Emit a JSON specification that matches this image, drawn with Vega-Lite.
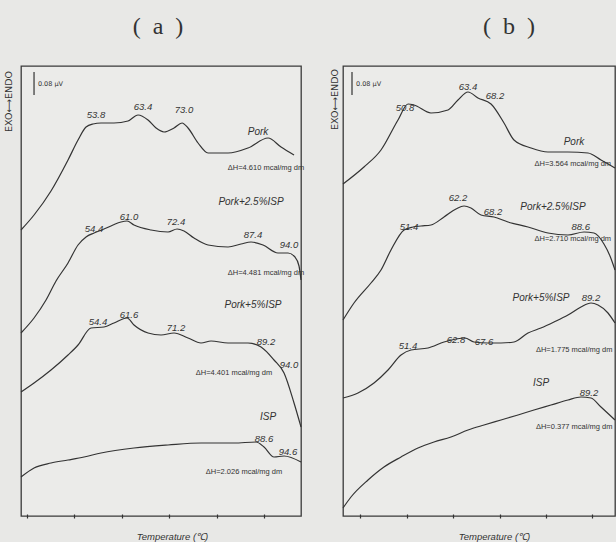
{
  "$schema": "https://vega.github.io/schema/vega-lite/v6.json",
  "background": "#e8e8e6",
  "padding": {"left": 2, "top": 14, "right": 0, "bottom": 0},
  "spacing": 42,
  "bounds": "flush",
  "config": {
    "view": {"stroke": "#3a3a3a", "strokeWidth": 1.3, "fill": "#ebebe9"},
    "text": {"color": "#333333"}
  },
  "datasets": {
    "curvesA": [
      {"series":"Pork","T":38.73,"S":286},{"series":"Pork","T":41.48,"S":301},{"series":"Pork","T":45.06,"S":325},{"series":"Pork","T":48.65,"S":356},{"series":"Pork","T":50.76,"S":376},{"series":"Pork","T":52.45,"S":389},{"series":"Pork","T":53.92,"S":392},{"series":"Pork","T":55.61,"S":393},{"series":"Pork","T":58.35,"S":393},{"series":"Pork","T":61.31,"S":395},{"series":"Pork","T":63.42,"S":401},{"series":"Pork","T":65.53,"S":396},{"series":"Pork","T":67.22,"S":388},{"series":"Pork","T":68.9,"S":384},{"series":"Pork","T":71.01,"S":388},{"series":"Pork","T":72.7,"S":393},{"series":"Pork","T":73.97,"S":388},{"series":"Pork","T":76.08,"S":373},{"series":"Pork","T":78.19,"S":363},{"series":"Pork","T":82.41,"S":363},{"series":"Pork","T":86.62,"S":368},{"series":"Pork","T":90.84,"S":378},{"series":"Pork","T":93.59,"S":369},{"series":"Pork","T":96.33,"S":361},
      {"series":"P25","T":38.73,"S":183},{"series":"P25","T":41.48,"S":198},{"series":"P25","T":44.01,"S":216},{"series":"P25","T":46.12,"S":235},{"series":"P25","T":48.65,"S":253},{"series":"P25","T":50.76,"S":271},{"series":"P25","T":52.45,"S":279},{"series":"P25","T":54.14,"S":283},{"series":"P25","T":56.24,"S":287},{"series":"P25","T":58.14,"S":291},{"series":"P25","T":59.83,"S":294},{"series":"P25","T":61.1,"S":295},{"series":"P25","T":62.57,"S":291},{"series":"P25","T":66.16,"S":286},{"series":"P25","T":69.75,"S":284},{"series":"P25","T":71.65,"S":287},{"series":"P25","T":73.12,"S":285},{"series":"P25","T":75.23,"S":278},{"series":"P25","T":78.19,"S":271},{"series":"P25","T":82.41,"S":269},{"series":"P25","T":85.15,"S":272},{"series":"P25","T":87.26,"S":274},{"series":"P25","T":89.79,"S":271},{"series":"P25","T":92.95,"S":263},{"series":"P25","T":95.06,"S":263},{"series":"P25","T":96.54,"S":259},{"series":"P25","T":97.38,"S":250},{"series":"P25","T":97.8,"S":236},
      {"series":"P5","T":38.73,"S":124},{"series":"P5","T":41.48,"S":133},{"series":"P5","T":45.06,"S":146},{"series":"P5","T":48.65,"S":161},{"series":"P5","T":50.76,"S":171},{"series":"P5","T":53.5,"S":188},{"series":"P5","T":56.24,"S":189},{"series":"P5","T":58.35,"S":193},{"series":"P5","T":61.1,"S":198},{"series":"P5","T":62.57,"S":191},{"series":"P5","T":65.53,"S":183},{"series":"P5","T":68.27,"S":181},{"series":"P5","T":71.01,"S":183},{"series":"P5","T":73.97,"S":178},{"series":"P5","T":76.71,"S":173},{"series":"P5","T":78.82,"S":175},{"series":"P5","T":82.41,"S":173},{"series":"P5","T":86.62,"S":173},{"series":"P5","T":89.37,"S":169},{"series":"P5","T":92.11,"S":156},{"series":"P5","T":94.22,"S":143},{"series":"P5","T":96.33,"S":113},{"series":"P5","T":97.8,"S":89},
      {"series":"ISP","T":38.73,"S":39},{"series":"ISP","T":41.48,"S":48},{"series":"ISP","T":45.06,"S":53},{"series":"ISP","T":48.65,"S":56},{"series":"ISP","T":52.03,"S":59},{"series":"ISP","T":55.61,"S":63},{"series":"ISP","T":62.57,"S":68},{"series":"ISP","T":69.75,"S":71},{"series":"ISP","T":76.71,"S":73},{"series":"ISP","T":83.67,"S":73},{"series":"ISP","T":88.31,"S":74},{"series":"ISP","T":90.0,"S":69},{"series":"ISP","T":92.11,"S":59},{"series":"ISP","T":94.22,"S":60},{"series":"ISP","T":97.8,"S":54}
    ],
    "curvesB": [
      {"series":"Pork","T":36.23,"S":332},{"series":"Pork","T":40.75,"S":349},{"series":"Pork","T":44.42,"S":366},{"series":"Pork","T":48.08,"S":396},{"series":"Pork","T":50.24,"S":412},{"series":"Pork","T":51.53,"S":411},{"series":"Pork","T":55.19,"S":403},{"series":"Pork","T":58.86,"S":406},{"series":"Pork","T":61.01,"S":416},{"series":"Pork","T":63.17,"S":424},{"series":"Pork","T":65.32,"S":418},{"series":"Pork","T":68.13,"S":412},{"series":"Pork","T":70.93,"S":393},{"series":"Pork","T":73.08,"S":376},{"series":"Pork","T":76.75,"S":368},{"series":"Pork","T":80.41,"S":364},{"series":"Pork","T":84.72,"S":364},{"series":"Pork","T":89.03,"S":363},{"series":"Pork","T":91.83,"S":356},{"series":"Pork","T":94.85,"S":348},
      {"series":"P25","T":36.23,"S":196},{"series":"P25","T":38.6,"S":213},{"series":"P25","T":42.26,"S":233},{"series":"P25","T":44.42,"S":246},{"series":"P25","T":46.57,"S":266},{"series":"P25","T":49.38,"S":286},{"series":"P25","T":51.31,"S":289},{"series":"P25","T":53.04,"S":290},{"series":"P25","T":55.19,"S":291},{"series":"P25","T":58.0,"S":299},{"series":"P25","T":60.58,"S":307},{"series":"P25","T":62.31,"S":310},{"series":"P25","T":63.81,"S":308},{"series":"P25","T":65.97,"S":301},{"series":"P25","T":68.77,"S":299},{"series":"P25","T":71.79,"S":294},{"series":"P25","T":76.1,"S":289},{"series":"P25","T":80.41,"S":283},{"series":"P25","T":84.72,"S":281},{"series":"P25","T":88.17,"S":284},{"series":"P25","T":90.32,"S":283},{"series":"P25","T":92.47,"S":272},{"series":"P25","T":93.77,"S":260},{"series":"P25","T":94.85,"S":246},
      {"series":"P5","T":36.23,"S":118},{"series":"P5","T":39.46,"S":123},{"series":"P5","T":42.91,"S":133},{"series":"P5","T":45.93,"S":146},{"series":"P5","T":48.73,"S":161},{"series":"P5","T":50.88,"S":166},{"series":"P5","T":54.55,"S":168},{"series":"P5","T":58.0,"S":174},{"series":"P5","T":60.58,"S":177},{"series":"P5","T":62.52,"S":178},{"series":"P5","T":64.46,"S":174},{"series":"P5","T":67.48,"S":173},{"series":"P5","T":70.28,"S":173},{"series":"P5","T":73.08,"S":174},{"series":"P5","T":76.1,"S":183},{"series":"P5","T":78.88,"S":188},{"series":"P5","T":81.7,"S":194},{"series":"P5","T":84.72,"S":201},{"series":"P5","T":87.52,"S":209},{"series":"P5","T":89.68,"S":213},{"series":"P5","T":91.19,"S":211},{"series":"P5","T":93.34,"S":203},{"series":"P5","T":94.85,"S":193},
      {"series":"ISP","T":36.23,"S":8},{"series":"ISP","T":37.95,"S":19},{"series":"ISP","T":41.62,"S":36},{"series":"ISP","T":45.06,"S":49},{"series":"ISP","T":48.73,"S":59},{"series":"ISP","T":52.39,"S":68},{"series":"ISP","T":55.84,"S":74},{"series":"ISP","T":59.5,"S":79},{"series":"ISP","T":63.17,"S":86},{"series":"ISP","T":66.62,"S":91},{"series":"ISP","T":70.28,"S":96},{"series":"ISP","T":73.94,"S":101},{"series":"ISP","T":77.39,"S":106},{"series":"ISP","T":81.05,"S":111},{"series":"ISP","T":84.72,"S":116},{"series":"ISP","T":87.52,"S":119},{"series":"ISP","T":89.68,"S":118},{"series":"ISP","T":91.83,"S":109},{"series":"ISP","T":94.85,"S":96}
    ],
    "labelsA": [
      {"kind":"peak","label":"53.8","T":54.56,"S":401},{"kind":"peak","label":"63.4","T":64.47,"S":409},{"kind":"peak","label":"73.0","T":73.12,"S":406},
      {"kind":"peak","label":"54.4","T":54.13,"S":287},{"kind":"peak","label":"61.0","T":61.52,"S":299},{"kind":"peak","label":"72.4","T":71.43,"S":294},{"kind":"peak","label":"87.4","T":87.68,"S":281},{"kind":"peak","label":"94.0","T":95.27,"S":271},
      {"kind":"peak","label":"54.4","T":54.98,"S":194},{"kind":"peak","label":"61.6","T":61.52,"S":201},{"kind":"peak","label":"71.2","T":71.43,"S":188},{"kind":"peak","label":"89.2","T":90.42,"S":174},{"kind":"peak","label":"94.0","T":95.27,"S":151},
      {"kind":"peak","label":"88.6","T":90.0,"S":77},{"kind":"peak","label":"94.6","T":95.06,"S":64},
      {"kind":"name","label":"Pork","T":88.73,"S":384},{"kind":"name","label":"Pork+2.5%ISP","T":87.26,"S":314},{"kind":"name","label":"Pork+5%ISP","T":87.68,"S":211},{"kind":"name","label":"ISP","T":90.84,"S":99},
      {"kind":"dh","label":"ΔH=4.610 mcal/mg dm","T":90.42,"S":348},{"kind":"dh","label":"ΔH=4.481 mcal/mg dm","T":90.42,"S":243},{"kind":"dh","label":"ΔH=4.401 mcal/mg dm","T":83.67,"S":143},{"kind":"dh","label":"ΔH=2.026 mcal/mg dm","T":85.78,"S":44},
      {"kind":"bar","label":"0.08 μV","T":42.3,"S":432}
    ],
    "labelsB": [
      {"kind":"peak","label":"50.8","T":49.6,"S":408},{"kind":"peak","label":"63.4","T":63.17,"S":429},{"kind":"peak","label":"68.2","T":69.0,"S":420},
      {"kind":"peak","label":"62.2","T":61.01,"S":318},{"kind":"peak","label":"68.2","T":68.56,"S":304},{"kind":"peak","label":"51.4","T":50.45,"S":289},{"kind":"peak","label":"88.6","T":87.48,"S":289},
      {"kind":"peak","label":"89.2","T":89.68,"S":218},{"kind":"peak","label":"51.4","T":50.24,"S":170},{"kind":"peak","label":"62.8","T":60.58,"S":176},{"kind":"peak","label":"67.6","T":66.62,"S":174},
      {"kind":"peak","label":"89.2","T":89.25,"S":123},
      {"kind":"name","label":"Pork","T":86.01,"S":374},{"kind":"name","label":"Pork+2.5%ISP","T":81.49,"S":309},{"kind":"name","label":"Pork+5%ISP","T":78.9,"S":218},{"kind":"name","label":"ISP","T":78.9,"S":133},
      {"kind":"dh","label":"ΔH=3.564 mcal/mg dm","T":94.0,"S":352},{"kind":"dh","label":"ΔH=2.710 mcal/mg dm","T":94.0,"S":277},{"kind":"dh","label":"ΔH=1.775 mcal/mg dm","T":94.3,"S":166},{"kind":"dh","label":"ΔH=0.377 mcal/mg dm","T":94.3,"S":89},
      {"kind":"bar","label":"0.08 μV","T":39.03,"S":432}
    ],
    "barA": [{"T":41.48,"S1":421,"S2":444}],
    "barB": [{"T":38.17,"S1":421,"S2":444}]
  },
  "hconcat": [
    {
      "width": 280,
      "height": 450,
      "title": {"text": "(\u00a0\u00a0a\u00a0\u00a0)", "font": "Liberation Serif", "fontSize": 24, "fontWeight": "normal", "color": "#333333", "offset": 3, "dx": -3, "baseline": "bottom"},
      "encoding": {
        "x": {"field": "T", "type": "quantitative", "scale": {"domain": [38.73, 97.8], "nice": false, "zero": false},
          "axis": {"values": [40, 50, 60, 70, 80, 90], "labels": false, "domain": false, "grid": false, "ticks": true, "tickSize": 4, "tickColor": "#333333", "tickWidth": 1.2, "offset": -2,
            "title": "Temperature (℃)", "titleFont": "Liberation Sans", "titleFontStyle": "italic", "titleFontWeight": "normal", "titleFontSize": 9.5, "titleColor": "#333333", "titleX": 151, "titleY": 22, "titleBaseline": "middle", "titleAlign": "center"}},
        "y": {"field": "S", "type": "quantitative", "scale": {"domain": [0, 450], "nice": false, "zero": false},
          "axis": {"title": "EXO⟷ENDO", "labels": false, "ticks": false, "domain": false, "grid": false, "titleFont": "DejaVu Sans", "titleFontSize": 9.5, "titleFontWeight": "normal", "titleColor": "#333333", "titleX": -13, "titleY": 35, "titleAngle": 270, "titleAlign": "center", "titleBaseline": "middle"}}
      },
      "layer": [
        {"data": {"name": "curvesA"}, "mark": {"type": "line", "interpolate": "monotone", "color": "#333333", "strokeWidth": 1.2}, "encoding": {"detail": {"field": "series"}}},
        {"data": {"name": "barA"}, "mark": {"type": "rule", "color": "#333333", "strokeWidth": 1.2}, "encoding": {"y": {"field": "S1", "type": "quantitative"}, "y2": {"field": "S2"}}},
        {"data": {"name": "labelsA"}, "transform": [{"filter": "datum.kind == 'peak'"}], "mark": {"type": "text", "font": "Liberation Sans", "fontStyle": "italic", "fontSize": 9.5, "fill": "#333333"}, "encoding": {"text": {"field": "label"}}},
        {"data": {"name": "labelsA"}, "transform": [{"filter": "datum.kind == 'name'"}], "mark": {"type": "text", "font": "Liberation Sans", "fontStyle": "italic", "fontSize": 10, "fill": "#333333"}, "encoding": {"text": {"field": "label"}}},
        {"data": {"name": "labelsA"}, "transform": [{"filter": "datum.kind == 'dh'"}], "mark": {"type": "text", "font": "Liberation Sans", "fontSize": 7.5, "fill": "#333333"}, "encoding": {"text": {"field": "label"}}},
        {"data": {"name": "labelsA"}, "transform": [{"filter": "datum.kind == 'bar'"}], "mark": {"type": "text", "font": "DejaVu Sans", "fontSize": 6.5, "align": "left", "fill": "#333333"}, "encoding": {"text": {"field": "label"}}}
      ]
    },
    {
      "width": 272,
      "height": 450,
      "title": {"text": "(\u00a0\u00a0b\u00a0\u00a0)", "font": "Liberation Serif", "fontSize": 24, "fontWeight": "normal", "color": "#333333", "offset": 3, "dx": 30, "baseline": "bottom"},
      "encoding": {
        "x": {"field": "T", "type": "quantitative", "scale": {"domain": [36.23, 94.85], "nice": false, "zero": false},
          "axis": {"values": [40, 50, 60, 70, 80, 90], "labels": false, "domain": false, "grid": false, "ticks": true, "tickSize": 4, "tickColor": "#333333", "tickWidth": 1.2, "offset": -2,
            "title": "Temperature (℃)", "titleFont": "Liberation Sans", "titleFontStyle": "italic", "titleFontWeight": "normal", "titleFontSize": 9.5, "titleColor": "#333333", "titleX": 151, "titleY": 22, "titleBaseline": "middle", "titleAlign": "center"}},
        "y": {"field": "S", "type": "quantitative", "scale": {"domain": [0, 450], "nice": false, "zero": false},
          "axis": {"title": "EXO⟷ENDO", "labels": false, "ticks": false, "domain": false, "grid": false, "titleFont": "DejaVu Sans", "titleFontSize": 9.5, "titleFontWeight": "normal", "titleColor": "#333333", "titleX": -9, "titleY": 33, "titleAngle": 270, "titleAlign": "center", "titleBaseline": "middle"}}
      },
      "layer": [
        {"data": {"name": "curvesB"}, "mark": {"type": "line", "interpolate": "monotone", "color": "#333333", "strokeWidth": 1.2}, "encoding": {"detail": {"field": "series"}}},
        {"data": {"name": "barB"}, "mark": {"type": "rule", "color": "#333333", "strokeWidth": 1.2}, "encoding": {"y": {"field": "S1", "type": "quantitative"}, "y2": {"field": "S2"}}},
        {"data": {"name": "labelsB"}, "transform": [{"filter": "datum.kind == 'peak'"}], "mark": {"type": "text", "font": "Liberation Sans", "fontStyle": "italic", "fontSize": 9.5, "fill": "#333333"}, "encoding": {"text": {"field": "label"}}},
        {"data": {"name": "labelsB"}, "transform": [{"filter": "datum.kind == 'name'"}], "mark": {"type": "text", "font": "Liberation Sans", "fontStyle": "italic", "fontSize": 10, "fill": "#333333"}, "encoding": {"text": {"field": "label"}}},
        {"data": {"name": "labelsB"}, "transform": [{"filter": "datum.kind == 'dh'"}], "mark": {"type": "text", "font": "Liberation Sans", "fontSize": 7.5, "align": "right", "fill": "#333333"}, "encoding": {"text": {"field": "label"}}},
        {"data": {"name": "labelsB"}, "transform": [{"filter": "datum.kind == 'bar'"}], "mark": {"type": "text", "font": "DejaVu Sans", "fontSize": 6.5, "align": "left", "fill": "#333333"}, "encoding": {"text": {"field": "label"}}}
      ]
    }
  ]
}
